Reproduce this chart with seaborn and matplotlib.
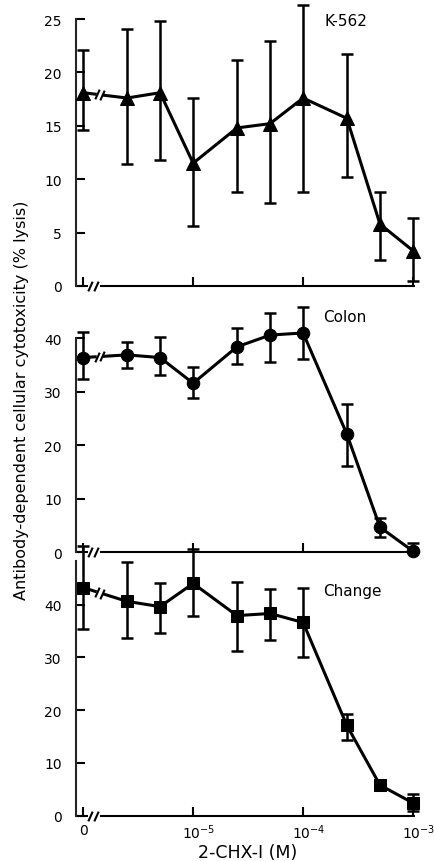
import numpy as np
import pandas as pd
import matplotlib
matplotlib.use("Agg")
import matplotlib.pyplot as plt
import matplotlib.transforms as mtransforms
from matplotlib.path import Path
import seaborn as sns

# ---------------- data ----------------
concentration = [0, 2.5e-6, 5e-6, 1e-5, 2.5e-5, 5e-5, 1e-4, 2.5e-4, 5e-4, 1e-3]

k562_mean = [18.1, 17.6, 18.1, 11.5, 14.8, 15.2, 17.6, 15.7, 5.8, 3.3]
k562_upper = [22.1, 24.1, 24.8, 17.6, 21.2, 22.9, 26.3, 21.7, 8.8, 6.4]
k562_lower = [14.6, 11.4, 11.8, 5.6, 8.8, 7.8, 8.8, 10.2, 2.4, 0.5]

colon_mean = [36.4, 36.9, 36.4, 31.6, 38.4, 40.6, 41.0, 22.1, 4.7, 0.2]
colon_upper = [41.2, 39.4, 40.2, 34.6, 41.9, 44.7, 45.8, 27.8, 6.4, 1.7]
colon_lower = [32.3, 34.4, 33.1, 28.9, 35.2, 35.5, 36.1, 16.2, 2.8, 0.0]

change_mean = [43.2, 40.6, 39.6, 44.0, 37.9, 38.3, 36.6, 17.1, 5.8, 2.4]
change_upper = [51.1, 48.1, 44.0, 50.5, 44.3, 43.0, 43.2, 19.3, 6.7, 4.1]
change_lower = [35.3, 33.6, 34.7, 37.9, 31.2, 33.3, 30.1, 14.4, 4.9, 0.9]

panel_titles = ["K-562", "Colon", "Change"]
panel_markers = ["^", "o", "s"]
y_ticks = [[0, 5, 10, 15, 20, 25], [0, 10, 20, 30, 40], [0, 10, 20, 30, 40]]
x_tick_values = [0, 1e-5, 1e-4, 1e-3]
x_tick_labels = ["0", r"10$^{-5}$", r"10$^{-4}$", r"10$^{-3}$"]
x_label = "2-CHX-I (M)"
y_label = "Antibody-dependent cellular cytotoxicity (% lysis)"

# ---------------- style ----------------
sns.set_theme(style="ticks")
plt.rcParams["font.family"] = ["DejaVu Sans"]
plt.rcParams["mathtext.default"] = "regular"

ZERO_POS = -6.0  # where the "0" concentration is placed on the broken log axis


def xpos(c):
    return np.log10(c) if c > 0 else ZERO_POS


W, H = 435, 862
fig = plt.figure(figsize=(W / 100, H / 100), dpi=100)

LEFT_PX, RIGHT_PX = 76.5, 414.7
XLIM = (-6.061, -2.985)
# (top_px, zero_px, ymax)
panels = [(20.0, 287.0, 25.0), (339.3, 553.3, 40.0), (561.7, 816.7, 48.3)]

data = [
    (k562_mean, k562_lower, k562_upper),
    (colon_mean, colon_lower, colon_upper),
    (change_mean, change_lower, change_upper),
]

slash = Path([(-0.45, -1.0), (0.45, 1.0)], [Path.MOVETO, Path.LINETO])

LW = 2.2
for i, ((top_px, zero_px, ymax), (mean, lower, upper)) in enumerate(zip(panels, data)):
    ax = fig.add_axes([LEFT_PX / W, 1 - zero_px / H,
                       (RIGHT_PX - LEFT_PX) / W, (zero_px - top_px) / H])
    ax.set_facecolor("none")
    df = pd.DataFrame({
        "conc": concentration,
        "x": [xpos(c) for c in concentration],
        "mean": mean,
        "lower": lower,
        "upper": upper,
    })
    mk = panel_markers[i]
    ms = {"^": 9.5, "o": 9.0, "s": 8.0}[mk]

    # error bars
    eb = ax.errorbar(df["x"], df["mean"],
                     yerr=[df["mean"] - df["lower"], df["upper"] - df["mean"]],
                     fmt="none", ecolor="black", elinewidth=1.8,
                     capsize=4.5, capthick=1.8, zorder=2)
    for art in eb.lines[1] + tuple(eb.lines[2]):
        art.set_clip_on(False)

    # main line (non-zero concentrations)
    sub = df.iloc[1:]
    sns.lineplot(data=sub, x="x", y="mean", ax=ax, color="black", lw=LW,
                 marker=mk, markersize=ms, markeredgecolor="black",
                 markerfacecolor="black", zorder=3, sort=False)
    # zero point
    sns.lineplot(data=df.iloc[:1], x="x", y="mean", ax=ax, color="black",
                 marker=mk, markersize=ms, markeredgecolor="black",
                 markerfacecolor="black", zorder=3, lw=0)

    # broken segment from the zero point to the first concentration
    x0, x1 = df["x"].iloc[0], df["x"].iloc[1]
    y0, y1 = df["mean"].iloc[0], df["mean"].iloc[1]
    g0, g1 = -5.877, -5.823
    yg0 = y0 + (y1 - y0) * (g0 - x0) / (x1 - x0)
    yg1 = y0 + (y1 - y0) * (g1 - x0) / (x1 - x0)
    ax.plot([x0, g0], [y0, yg0], color="black", lw=LW, zorder=3,
            solid_capstyle="butt")
    ax.plot([g1, x1], [yg1, y1], color="black", lw=LW, zorder=3,
            solid_capstyle="butt")
    ax.plot([g0 + 0.005, g1 - 0.005], [yg0, yg1], ls="none", marker=slash,
            markersize=7, mew=1.5, color="black", zorder=3)

    for ln in ax.lines:
        ln.set_clip_on(False)
    for col in ax.collections:
        col.set_clip_on(False)

    ax.set_xlim(*XLIM)
    ax.set_ylim(0, ymax)

    # axes with broken x axis
    sns.despine(ax=ax, top=True, right=True, bottom=True)
    ax.spines["left"].set_linewidth(1.5)
    a0, a1 = -5.957, -5.85
    ax.plot([XLIM[0], a0], [0, 0], color="black", lw=1.5, clip_on=False,
            solid_capstyle="butt", zorder=1)
    ax.plot([a1, XLIM[1]], [0, 0], color="black", lw=1.5, clip_on=False,
            solid_capstyle="butt", zorder=1)
    ax.plot([a0 + 0.015, a1 - 0.03], [0, 0], ls="none", marker=slash,
            markersize=7, mew=1.5, color="black", clip_on=False, zorder=1)

    ax.set_xticks([xpos(v) for v in x_tick_values])
    ax.set_yticks(y_ticks[i])
    ax.set_yticklabels([str(t) for t in y_ticks[i]])
    ax.tick_params(axis="both", direction="in", length=6.5, width=1.5,
                   labelsize=10, colors="black")
    ax.tick_params(axis="y", pad=10.5)
    ax.tick_params(axis="x", pad=5)
    if i == 2:
        ax.set_xticklabels(x_tick_labels)
        for lbl in ax.get_xticklabels()[1:]:
            lbl.set_transform(lbl.get_transform() +
                              mtransforms.ScaledTranslation(4 / 72, 0,
                                                            fig.dpi_scale_trans))
    else:
        ax.set_xticklabels([])
    ax.set_xlabel("")
    ax.set_ylabel("")
    ax.grid(False)

# panel titles
title_pos = [(325, 21), (323, 318), (323, 592)]
for t, (px, py) in zip(panel_titles, title_pos):
    fig.text(px / W, 1 - py / H, t, ha="left", va="center", fontsize=11,
             color="black")

fig.text(22 / W, 1 - 400 / H, y_label, rotation=90, ha="center",
         va="center", fontsize=11.5, color="black")
fig.text(248 / W, 1 - 853 / H, x_label, ha="center", va="center",
         fontsize=12.5, color="black")

fig.savefig("out.png", dpi=100, facecolor="white")
